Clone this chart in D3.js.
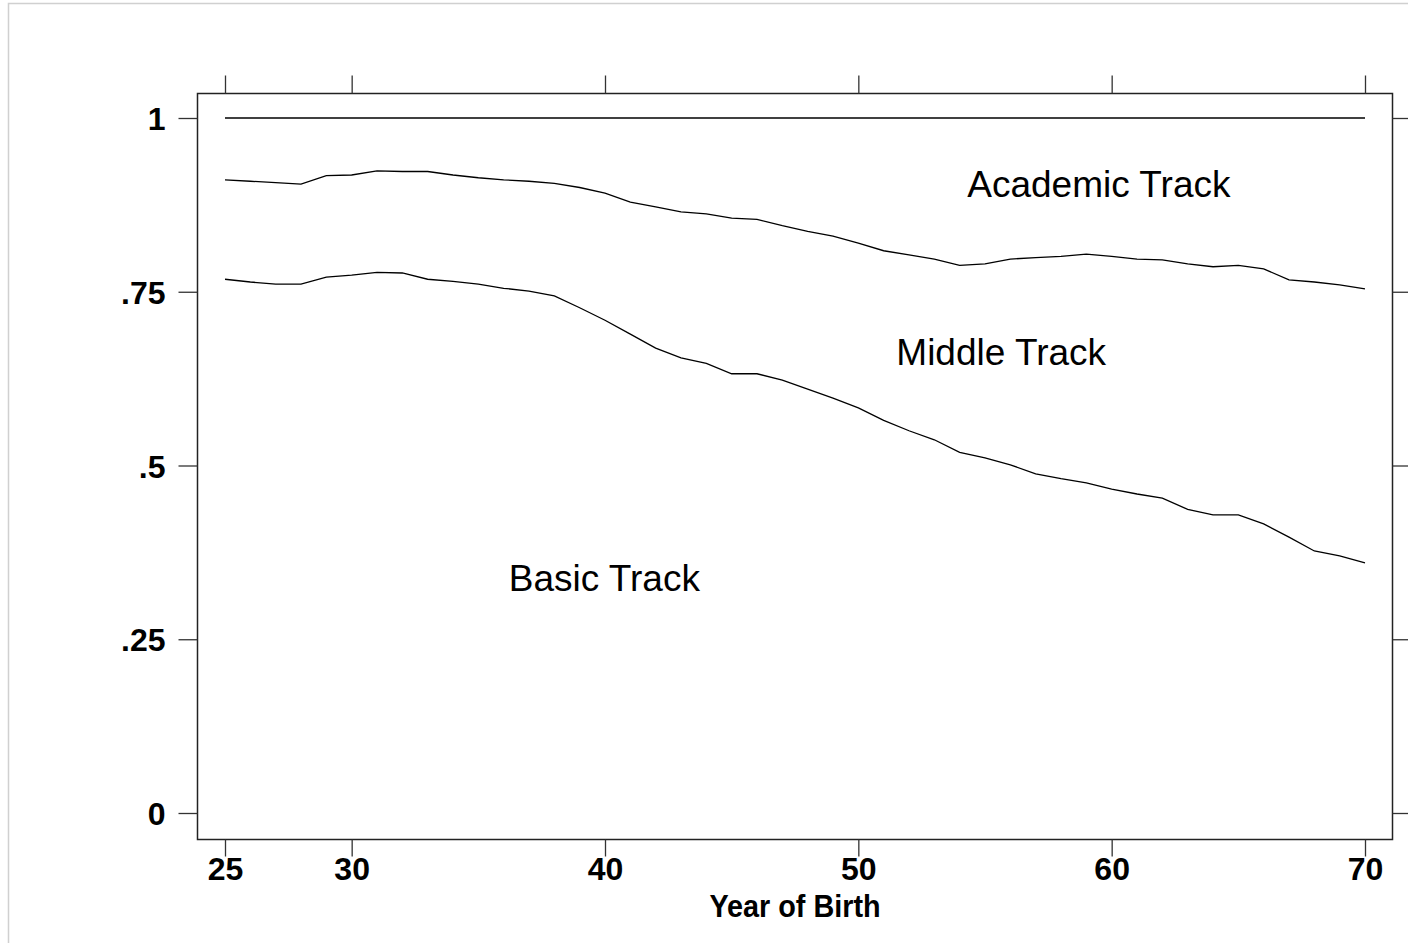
<!DOCTYPE html>
<html>
<head>
<meta charset="utf-8">
<script src="https://cdn.jsdelivr.net/npm/d3@7"></script>
<style>
  body { margin: 0; background: #fff; }
  svg { display: block; }
</style>
</head>
<body>
<svg id="canvas"></svg>
<script>
// year of birth (19xx) and the cumulative shares for the track boundaries
let years = d3.range(25, 71)
let upperBound = [0.911, 0.909, 0.907, 0.905, 0.917, 0.918, 0.924, 0.923, 0.923, 0.918,
                  0.914, 0.911, 0.909, 0.906, 0.900, 0.892, 0.879, 0.872, 0.865, 0.862,
                  0.856, 0.854, 0.845, 0.837, 0.830, 0.820, 0.809, 0.803, 0.797, 0.788,
                  0.790, 0.797, 0.799, 0.801, 0.804, 0.801, 0.797, 0.796, 0.790, 0.786,
                  0.788, 0.783, 0.767, 0.764, 0.760, 0.754]
let lowerBound = [0.768, 0.764, 0.761, 0.761, 0.771, 0.774, 0.778, 0.777, 0.768, 0.765,
                  0.761, 0.755, 0.751, 0.744, 0.727, 0.709, 0.689, 0.669, 0.655, 0.647,
                  0.632, 0.632, 0.623, 0.610, 0.597, 0.583, 0.565, 0.550, 0.537, 0.519,
                  0.511, 0.501, 0.488, 0.481, 0.475, 0.466, 0.459, 0.453, 0.437, 0.429,
                  0.429, 0.416, 0.397, 0.377, 0.370, 0.360]
let topBound = years.map(() => 1)

let xTicks = [25, 30, 40, 50, 60, 70]
let yTicks = [0, 0.25, 0.5, 0.75, 1]
let yTickLabels = ['0', '.25', '.5', '.75', '1']

let trackLabels = [
    {text: 'Academic Track', year: 54.3, value: 0.886},
    {text: 'Middle Track', year: 51.5, value: 0.644},
    {text: 'Basic Track', year: 36.2, value: 0.32}
]

let width = 1408
let height = 943
let frame = {left: 197.5, right: 1392.5, top: 93.5, bottom: 839.5}

let canvas = d3.select('#canvas')
    .attr('width', width)
    .attr('height', height)

// light outer border of the graph window
canvas.append('rect')
    .attr('x', 8.5).attr('y', 3.5)
    .attr('width', width).attr('height', height)
    .attr('fill', 'none')
    .attr('stroke', '#d0d0d0')
    .attr('stroke-width', 1.5)

let xScale = d3.scaleLinear().domain([25, 70]).range([225, 1365])
let yScale = d3.scaleLinear().domain([0, 1]).range([813, 118])

canvas.append('rect')
    .attr('x', frame.left).attr('y', frame.top)
    .attr('width', frame.right - frame.left)
    .attr('height', frame.bottom - frame.top)
    .attr('fill', 'none')
    .attr('stroke', '#222')
    .attr('stroke-width', 1.5)

let tickStyle = (g) => {
    g.select('.domain').remove()
    g.selectAll('.tick line').attr('stroke', '#333').attr('stroke-width', 1.3)
}

// bottom axis with labels
canvas.append('g')
    .attr('transform', `translate(0,${frame.bottom})`)
    .call(d3.axisBottom(xScale).tickValues(xTicks).tickSize(17).tickPadding(0).tickFormat(d3.format('d')))
    .call(tickStyle)
    .call(g => g.selectAll('.tick text')
        .attr('fill', '#000')
        .attr('font-family', 'Arial, "Liberation Sans", sans-serif')
        .attr('font-weight', 'bold')
        .attr('font-size', 32)
        .attr('dy', '0.74em'))

// top axis: ticks only
canvas.append('g')
    .attr('transform', `translate(0,${frame.top})`)
    .call(d3.axisTop(xScale).tickValues(xTicks).tickSize(18).tickFormat(''))
    .call(tickStyle)

// left axis with labels
canvas.append('g')
    .attr('transform', `translate(${frame.left},0)`)
    .call(d3.axisLeft(yScale).tickValues(yTicks).tickSize(19).tickPadding(13)
        .tickFormat((d, i) => yTickLabels[i]))
    .call(tickStyle)
    .call(g => g.selectAll('.tick text')
        .attr('fill', '#000')
        .attr('font-family', 'Arial, "Liberation Sans", sans-serif')
        .attr('font-weight', 'bold')
        .attr('font-size', 32)
        .attr('dy', '0.36em'))

// right axis: ticks only
canvas.append('g')
    .attr('transform', `translate(${frame.right},0)`)
    .call(d3.axisRight(yScale).tickValues(yTicks).tickSize(16).tickFormat(''))
    .call(tickStyle)

// x axis title, condensed bold
canvas.append('text')
    .attr('transform', `translate(${(xScale(25) + xScale(70)) / 2},917) scale(0.9,1)`)
    .attr('text-anchor', 'middle')
    .attr('font-family', 'Arial, "Liberation Sans", sans-serif')
    .attr('font-weight', 'bold')
    .attr('font-size', 32)
    .attr('fill', '#000')
    .text('Year of Birth')

let line = d3.line()
    .x((d, i) => xScale(years[i]))
    .y(d => yScale(d))

;[topBound, upperBound, lowerBound].forEach(series => {
    canvas.append('path')
        .datum(series)
        .attr('d', line)
        .attr('fill', 'none')
        .attr('stroke', '#000')
        .attr('stroke-width', 1.3)
})

canvas.selectAll('.track-label')
    .data(trackLabels)
    .enter()
    .append('text')
    .attr('class', 'track-label')
    .attr('x', d => xScale(d.year))
    .attr('y', d => yScale(d.value))
    .attr('font-family', 'Arial, "Liberation Sans", sans-serif')
    .attr('font-size', 37)
    .attr('fill', '#000')
    .text(d => d.text)
</script>
</body>
</html>
